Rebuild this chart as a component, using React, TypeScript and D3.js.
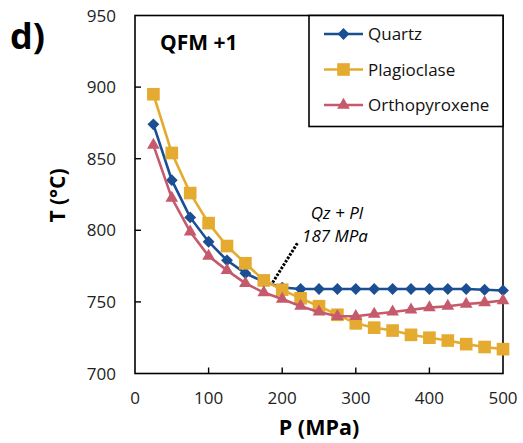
import React, { useEffect, useRef } from "react";
import * as d3 from "d3";

// pressure steps (MPa)
const pressure = [25, 50, 75, 100, 125, 150, 175, 200, 225, 250, 275, 300, 325, 350, 375, 400, 425, 450, 475, 500];

// saturation temperatures (°C)
const quartz = [874, 835, 809, 792, 779, 770, 764, 760, 759, 759, 759, 759, 759, 759, 759, 759, 759, 759, 758.5, 758];
const plagioclase = [895, 854, 826, 805, 789, 777, 765, 758.5, 752.5, 747, 741, 735, 732, 730, 727, 725, 723, 720.5, 718.5, 717];
const orthopyroxene = [859.5, 822.5, 799, 782, 772, 763, 756.5, 752, 747, 743, 740, 740, 741.5, 743, 744.5, 746, 747, 748.5, 749.5, 751];

const seriesNames = ["Quartz", "Plagioclase", "Orthopyroxene"];
const xTicks = [0, 100, 200, 300, 400, 500];
const yTicks = [700, 750, 800, 850, 900, 950];

const W = 523;
const H = 443;

export default function App() {
  const ref = useRef<SVGSVGElement>(null);

  useEffect(() => {
    const svg = d3.select(ref.current);
    svg.selectAll("*").remove();

    const left = 135, right = 503, top = 15.5, bottom = 373.5;
    const font = "'Open Sans', sans-serif";

    const x = d3.scaleLinear().domain([0, 500]).range([left, right]);
    const y = d3.scaleLinear().domain([700, 950]).range([bottom, top]);

    const series = [
      { name: seriesNames[0], values: quartz, color: "#1b4e93", symbol: d3.symbolSquare, size: 70, rotate: 45 },
      { name: seriesNames[1], values: plagioclase, color: "#e5ab30", symbol: d3.symbolSquare, size: 160, rotate: 0 },
      { name: seriesNames[2], values: orthopyroxene, color: "#c55a6d", symbol: d3.symbolTriangle, size: 70, rotate: 0 },
    ];

    // frame
    svg.append("rect")
      .attr("x", left).attr("y", top)
      .attr("width", right - left).attr("height", bottom - top)
      .attr("fill", "none").attr("stroke", "#000").attr("stroke-width", 1.6);

    // inner ticks
    svg.selectAll(".xt").data(xTicks.slice(1, -1)).enter().append("line")
      .attr("x1", d => x(d)).attr("x2", d => x(d))
      .attr("y1", bottom).attr("y2", bottom - 6)
      .attr("stroke", "#000").attr("stroke-width", 1.4);
    svg.selectAll(".yt").data(yTicks.slice(1, -1)).enter().append("line")
      .attr("x1", left).attr("x2", left + 6)
      .attr("y1", d => y(d)).attr("y2", d => y(d))
      .attr("stroke", "#000").attr("stroke-width", 1.4);

    // tick labels
    svg.selectAll(".xl").data(xTicks).enter().append("text")
      .attr("x", d => x(d)).attr("y", 404)
      .attr("text-anchor", "middle")
      .attr("font-family", font).attr("font-size", 17).attr("fill", "#222")
      .text(d => d);
    svg.selectAll(".yl").data(yTicks).enter().append("text")
      .attr("x", 116).attr("y", d => y(d) + 6)
      .attr("text-anchor", "end")
      .attr("font-family", font).attr("font-size", 17).attr("fill", "#222")
      .text(d => d);

    // axis titles
    svg.append("text")
      .attr("x", (left + right) / 2).attr("y", 435)
      .attr("text-anchor", "middle")
      .attr("font-family", font).attr("font-size", 21.5).attr("font-weight", "bold")
      .text("P (MPa)");
    svg.append("text")
      .attr("transform", `translate(65,${(top + bottom) / 2 + 1}) rotate(-90)`)
      .attr("text-anchor", "middle")
      .attr("font-family", font).attr("font-size", 21).attr("font-weight", "bold")
      .text("T (°C)");

    // panel letter + condition
    svg.append("text")
      .attr("x", 10).attr("y", 49)
      .attr("font-family", font).attr("font-size", 36).attr("font-weight", "bold")
      .text("d)");
    svg.append("text")
      .attr("x", 160).attr("y", 50)
      .attr("font-family", font).attr("font-size", 21).attr("font-weight", "bold")
      .text("QFM +1");

    // lines + markers
    const line = d3.line<number>()
      .x((d, i) => x(pressure[i]))
      .y(d => y(d));

    series.forEach(s => {
      svg.append("path")
        .attr("d", line(s.values))
        .attr("fill", "none")
        .attr("stroke", s.color)
        .attr("stroke-width", 2.6);
      svg.selectAll(".m-" + s.name).data(s.values).enter().append("path")
        .attr("d", d3.symbol().type(s.symbol).size(s.size)())
        .attr("transform", (d, i) => `translate(${x(pressure[i])},${y(d)}) rotate(${s.rotate})`)
        .attr("fill", s.color);
    });

    // annotation for Qz + Pl intersection
    svg.append("line")
      .attr("x1", x(187)).attr("y1", y(763.5))
      .attr("x2", 297.5).attr("y2", 243)
      .attr("stroke", "#000").attr("stroke-width", 3)
      .attr("stroke-dasharray", "2.5,1.5");
    svg.append("text")
      .attr("x", 337).attr("y", 219)
      .attr("text-anchor", "middle")
      .attr("font-family", font).attr("font-size", 17).attr("font-style", "italic")
      .text("Qz + Pl");
    svg.append("text")
      .attr("x", 335).attr("y", 242)
      .attr("text-anchor", "middle")
      .attr("font-family", font).attr("font-size", 17).attr("font-style", "italic")
      .text("187 MPa");

    // legend
    const lg = svg.append("g");
    lg.append("rect")
      .attr("x", 309).attr("y", top)
      .attr("width", right - 309).attr("height", 111)
      .attr("fill", "#fff").attr("stroke", "#000").attr("stroke-width", 1.6);
    series.forEach((s, i) => {
      const ly = 34 + i * 35.5;
      lg.append("line")
        .attr("x1", 324).attr("x2", 363)
        .attr("y1", ly).attr("y2", ly)
        .attr("stroke", s.color).attr("stroke-width", 2.6);
      lg.append("path")
        .attr("d", d3.symbol().type(s.symbol).size(s.size)())
        .attr("transform", `translate(343.5,${ly}) rotate(${s.rotate})`)
        .attr("fill", s.color);
      lg.append("text")
        .attr("x", 368).attr("y", ly + 6)
        .attr("font-family", font).attr("font-size", 17).attr("fill", "#111")
        .text(s.name);
    });
  }, []);

  return (
    <svg
      ref={ref}
      width={W}
      height={H}
      style={{ position: "absolute", left: 0, top: 0, background: "#fff" }}
    />
  );
}
